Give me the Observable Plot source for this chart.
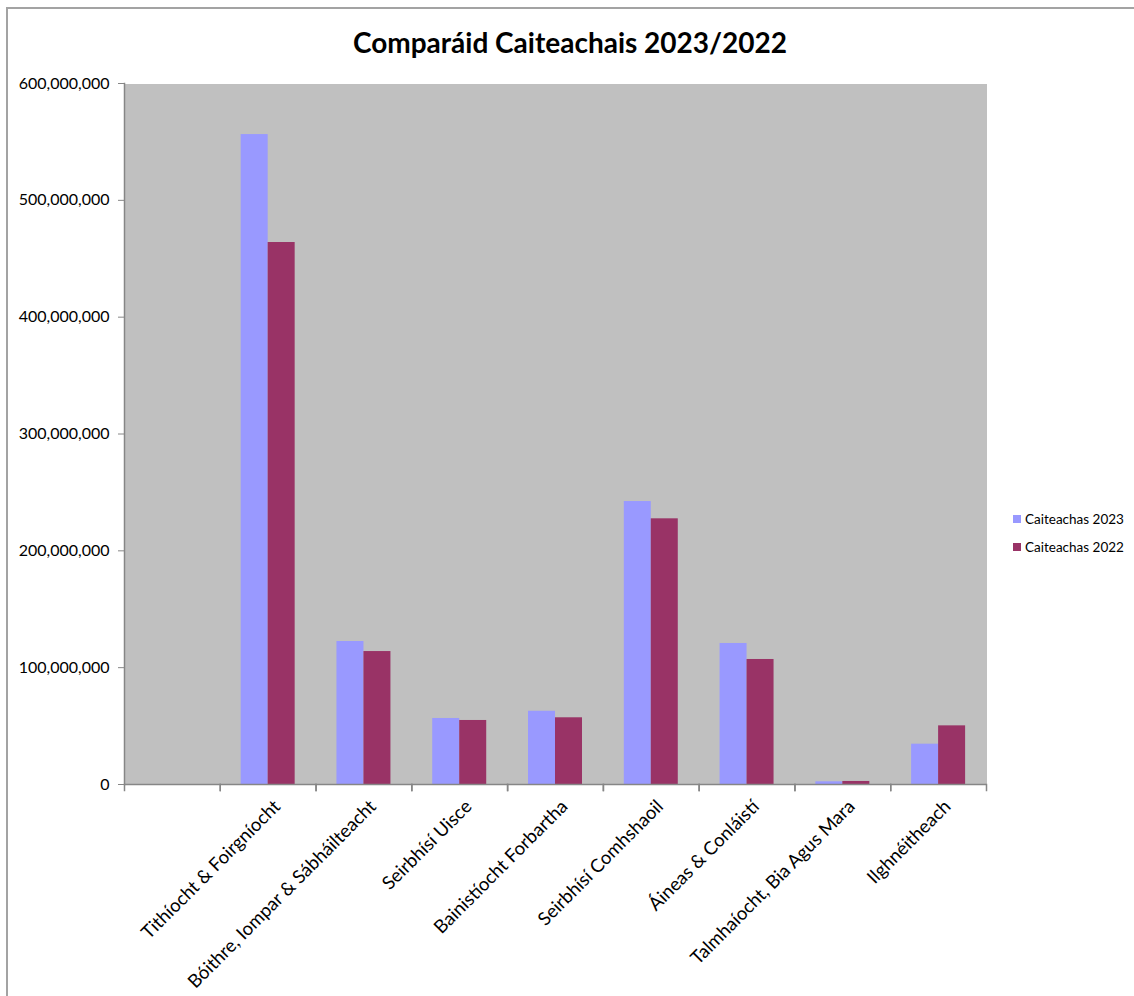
<!DOCTYPE html>
<html>
<head>
<meta charset="utf-8">
<script src="https://cdn.jsdelivr.net/npm/d3@7"></script>
<script src="https://cdn.jsdelivr.net/npm/@observablehq/plot@0.6"></script>
<style>
  body { margin: 0; background: #fff; font-family: Lato, "Open Sans", sans-serif; }
  #wrap { position: relative; width: 1134px; height: 996px; overflow: hidden; background: #fff; }
  #border { position: absolute; left: 6px; top: 7px; width: 1140px; height: 1000px;
            border-left: 2px solid #a3a3a3; border-top: 2px solid #a3a3a3; pointer-events: none; }
  #title { height: 70px; display: flex; align-items: flex-start; justify-content: center; }
  #title span { font-family: Lato, sans-serif; font-weight: 700; font-size: 28px; color: #000;
                padding-left: 6px; margin-top: 28px; line-height: 1; }
  #legend { position: absolute; left: 1013px; top: 511px; font-family: Lato, sans-serif; font-size: 13.5px; color: #000; }
  #legend .row { display: flex; align-items: center; height: 16px; margin-bottom: 12px; }
  #legend .sw { width: 8px; height: 8px; margin-right: 4px; }
  #chart svg { display: block; }
</style>
</head>
<body>
<div id="wrap">
  <div id="title"><span>Comparáid Caiteachais 2023/2022</span></div>
  <div id="chart"></div>
  <div id="legend"></div>
  <div id="border"></div>
</div>
<script>
const categories = ["", "Tithíocht & Foirgníocht", "Bóithre, Iompar & Sábháilteacht", "Seirbhísí Uisce",
  "Bainistíocht Forbartha", "Seirbhísí Comhshaoil", "Áineas & Conláistí",
  "Talmhaíocht, Bia Agus Mara", "Ilghnéitheach"];
const series = ["Caiteachas 2023", "Caiteachas 2022"];
const spend2023 = [0, 556300000, 122400000, 56500000, 62700000, 242200000, 120700000, 2300000, 34500000];
const spend2022 = [0, 463900000, 113800000, 54800000, 57100000, 227400000, 107000000, 2600000, 50200000];
const yTicks = [0, 100000000, 200000000, 300000000, 400000000, 500000000, 600000000];
const colors = ["#9999ff", "#993366"];

const data = categories.flatMap((c, i) => [
  {category: c, series: series[0], value: spend2023[i]},
  {category: c, series: series[1], value: spend2022[i]}
]);

const axisGrey = "#868686";

const chart = Plot.plot({
  width: 1134,
  height: 926,
  marginLeft: 124,
  marginRight: 148,
  marginTop: 13,
  marginBottom: 212,
  style: {fontFamily: "Lato, sans-serif", fontSize: "15px", color: "#000", background: "transparent"},
  fx: {domain: categories, padding: 0, round: false, label: null, axis: null},
  x: {domain: series, paddingInner: 0, paddingOuter: 0.774, round: false, axis: null},
  y: {domain: [0, 600000000], axis: null},
  color: {domain: series, range: colors},
  marks: [
    Plot.frame({fill: "#c0c0c0", stroke: null, shapeRendering: "crispEdges"}),
    Plot.barY(data, {fx: "category", x: "series", y: "value", fill: "series"}),
    Plot.ruleY([0], {stroke: axisGrey, strokeWidth: 1.5}),
    Plot.frame({anchor: "left", stroke: axisGrey, strokeWidth: 1.5, facetAnchor: "left"}),
    Plot.frame({anchor: "left", insetTop: 701, insetBottom: -6, stroke: axisGrey, strokeWidth: 1.5}),
    Plot.frame({anchor: "right", insetTop: 701, insetBottom: -6, stroke: axisGrey, strokeWidth: 1.5}),
    Plot.axisY({ticks: yTicks, tickFormat: d3.format(","), tickSize: 6, tickPadding: 9,
                stroke: axisGrey, fontSize: 16, label: null}),
    Plot.axisFx({anchor: "bottom", tickRotate: -45, tickSize: 0, tickPadding: 19, dx: 9,
                 fontSize: 18.5, label: null})
  ]
});
document.getElementById("chart").appendChild(chart);

const legend = document.getElementById("legend");
series.forEach((s, i) => {
  const row = document.createElement("div");
  row.className = "row";
  const sw = document.createElement("div");
  sw.className = "sw";
  sw.style.background = colors[i];
  const t = document.createElement("span");
  t.textContent = s;
  row.appendChild(sw);
  row.appendChild(t);
  legend.appendChild(row);
});
</script>
</body>
</html>
